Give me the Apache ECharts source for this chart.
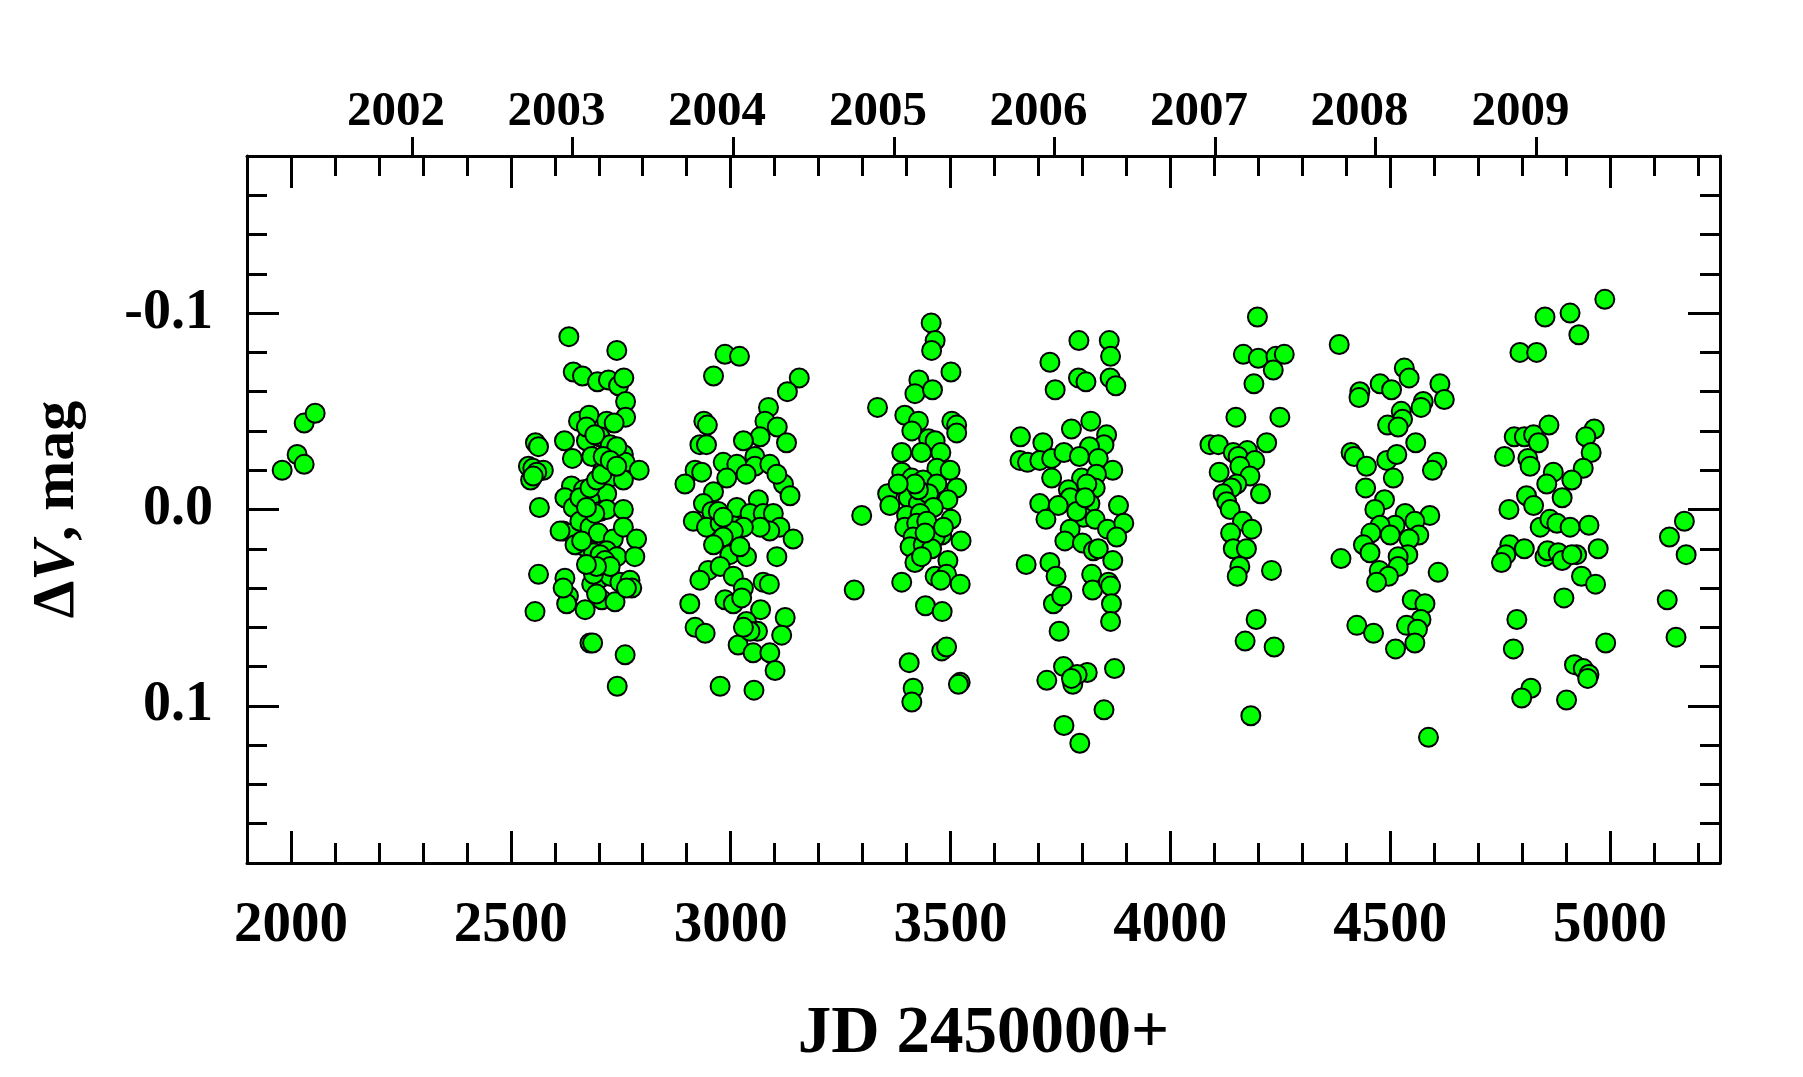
<!DOCTYPE html>
<html>
<head>
<meta charset="utf-8">
<script src="https://cdn.jsdelivr.net/npm/echarts@6/dist/echarts.min.js"></script>
<style>
html,body{margin:0;padding:0;background:#fff;}
#chart{width:1803px;height:1077px;}
</style>
</head>
<body>
<div id="chart"></div>
<script>
// ---- Data: JD-2450000 and Delta V (mag), one pair of arrays per observing season ----
const s01Jd = [1980, 2014, 2030, 2030, 2055];
const s01Dv = [-0.020, -0.028, -0.023, -0.044, -0.049];

const s02Jd = [2632,2741,2642,2663,2697,2722,2745,2757,2761,2761,2654,2678,2718,2735,2556,2563,2622,2680,2672,2703,2726,2756,2640,2684,2540,2550,2574,2545,2760,2792,2709,2722,2756,2638,2665,2623,2718,2565,2642,2680,2703,2718,2756,2619,2638,2657,2680,2699,2733,2756,2786,2650,2669,2688,2718,2741,2782,2563,2623,2684,2703,2726,2748,2771,2775,2631,2627,2669,2707,2737,2555,2680,2760,2742,2612,2646,2657,2680,2695,2707,2741,2672,2691,2710,2726,2741,2691,2672,2661,2703,2714,2726,2688,2763,2619,2695,2686,2559,2551,2695,2672];
const s02Dv = [-0.088,-0.081,-0.070,-0.068,-0.065,-0.066,-0.063,-0.067,-0.055,-0.047,-0.045,-0.048,-0.045,-0.044,-0.034,-0.032,-0.035,-0.039,-0.035,-0.037,-0.033,-0.028,-0.026,-0.027,-0.022,-0.021,-0.020,-0.015,-0.024,-0.020,-0.020,-0.016,-0.015,-0.012,-0.010,-0.006,-0.008,-0.001,-0.001,-0.005,0.001,0.000,0.000,0.011,0.012,0.006,0.009,0.012,0.015,0.009,0.015,0.018,0.019,0.022,0.021,0.024,0.024,0.033,0.035,0.038,0.035,0.034,0.037,0.036,0.040,0.044,0.048,0.051,0.046,0.047,0.052,0.068,0.074,0.090,0.011,0.018,-0.006,-0.011,-0.015,-0.018,-0.032,-0.042,-0.038,-0.027,-0.025,-0.022,0.002,-0.001,0.016,0.023,0.026,0.029,0.033,0.040,0.040,0.043,0.068,-0.019,-0.017,0.029,0.028];

const s03Jd = [2987,3020,2961,3156,3129,3086,2939,2947,3078,3106,3067,3029,3127,2930,2945,2983,3014,3055,3055,3035,3089,3120,3105,3135,2919,2934,2896,2991,2961,2938,2957,2915,2945,2976,2998,3014,3063,3044,3074,3097,3112,3142,3089,3067,3029,3006,2983,2961,2998,3036,3021,3105,2949,2930,2976,3006,3029,3074,3088,2907,2987,3006,3025,3068,3124,2919,2942,3036,3061,3116,3017,3051,3089,3101,2976,3053,3044,3029,2972,2983];
const s03Dv = [-0.079,-0.078,-0.068,-0.067,-0.060,-0.052,-0.045,-0.043,-0.045,-0.042,-0.037,-0.035,-0.034,-0.033,-0.033,-0.024,-0.023,-0.027,-0.022,-0.018,-0.023,-0.013,-0.018,-0.007,-0.020,-0.019,-0.013,-0.016,-0.009,-0.003,0.001,0.006,0.009,0.007,0.006,-0.001,-0.005,0.002,0.002,0.002,0.009,0.015,0.011,0.009,0.009,0.011,0.014,0.018,0.023,0.024,0.019,0.024,0.031,0.036,0.029,0.034,0.040,0.037,0.038,0.048,0.046,0.048,0.045,0.051,0.055,0.060,0.063,0.057,0.062,0.064,0.069,0.073,0.073,0.082,0.090,0.092,0.062,0.060,0.001,0.004];

const s04Jd = [3456,3465,3457,3501,3428,3419,3459,3334,3396,3427,3412,3503,3514,3514,3450,3465,3389,3434,3478,3469,3499,3389,3412,3438,3514,3469,3357,3362,3404,3427,3450,3494,3461,3298,3400,3431,3501,3396,3423,3446,3480,3465,3524,3415,3408,3438,3457,3419,3434,3494,3465,3491,3478,3389,3522,3281,3443,3481,3480,3491,3406,3522,3518,3415,3412,3442,3427,3419,3381,3484];
const s04Dv = [-0.095,-0.086,-0.081,-0.070,-0.066,-0.059,-0.061,-0.052,-0.048,-0.045,-0.040,-0.045,-0.043,-0.039,-0.036,-0.035,-0.029,-0.029,-0.029,-0.021,-0.020,-0.019,-0.016,-0.015,-0.011,-0.013,-0.008,-0.002,-0.006,-0.003,-0.008,-0.005,-0.001,0.003,0.003,0.002,0.005,0.009,0.007,0.006,0.013,0.014,0.016,0.014,0.019,0.018,0.020,0.027,0.024,0.026,0.034,0.033,0.036,0.037,0.038,0.041,0.049,0.052,0.072,0.070,0.078,0.088,0.089,0.091,0.098,0.012,-0.010,-0.013,-0.013,0.009];

const s05Jd = [3792,3861,3864,3726,3791,3808,3863,3876,3738,3819,3775,3659,3710,3855,3849,3816,3658,3675,3703,3730,3758,3793,3836,3869,3730,3798,3832,3829,3768,3772,3703,3745,3817,3882,3717,3802,3829,3857,3894,3878,3772,3760,3800,3825,3836,3869,3672,3726,3740,3821,3823,3859,3864,3734,3753,3866,3864,3747,3757,3719,3778,3811,3788,3873,3849,3758,3794,3775,3810,3787,3806];
const s05Dv = [-0.086,-0.086,-0.078,-0.075,-0.067,-0.065,-0.067,-0.063,-0.061,-0.045,-0.041,-0.037,-0.034,-0.038,-0.033,-0.032,-0.025,-0.024,-0.025,-0.026,-0.029,-0.027,-0.026,-0.020,-0.016,-0.016,-0.018,-0.011,-0.010,-0.006,-0.003,-0.002,-0.003,-0.002,0.005,0.004,0.005,0.010,0.007,0.014,0.010,0.016,0.017,0.021,0.020,0.026,0.028,0.027,0.034,0.033,0.041,0.037,0.039,0.048,0.044,0.048,0.057,0.062,0.080,0.087,0.089,0.083,0.084,0.081,0.102,0.110,0.119,0.086,-0.013,0.001,-0.006];

const s06Jd = [4198,4166,4200,4240,4259,4234,4190,4149,4249,4090,4109,4219,4143,4175,4154,4192,4111,4158,4181,4151,4139,4120,4205,4128,4136,4164,4185,4137,4143,4173,4158,4152,4230,4195,4170,4236,4183];
const s06Dv = [-0.098,-0.079,-0.077,-0.078,-0.079,-0.071,-0.064,-0.047,-0.047,-0.033,-0.033,-0.034,-0.029,-0.030,-0.027,-0.025,-0.019,-0.022,-0.017,-0.013,-0.011,-0.008,-0.008,-0.004,0.000,0.006,0.010,0.012,0.020,0.020,0.029,0.034,0.031,0.056,0.067,0.070,0.105];

const s07Jd = [4384,4532,4543,4477,4503,4431,4429,4613,4623,4575,4570,4525,4528,4494,4518,4558,4411,4418,4492,4515,4606,4596,4446,4507,4444,4487,4465,4590,4534,4556,4511,4477,4456,4439,4500,4565,4543,4454,4540,4518,4388,4518,4475,4496,4469,4609,4550,4579,4570,4537,4562,4424,4462,4556,4512,4587];
const s07Dv = [-0.084,-0.072,-0.067,-0.064,-0.061,-0.060,-0.057,-0.064,-0.056,-0.055,-0.052,-0.050,-0.046,-0.043,-0.042,-0.034,-0.029,-0.027,-0.025,-0.028,-0.024,-0.020,-0.022,-0.016,-0.011,-0.005,0.000,0.003,0.002,0.006,0.008,0.008,0.012,0.018,0.013,0.013,0.015,0.022,0.023,0.024,0.025,0.029,0.031,0.034,0.037,0.032,0.046,0.048,0.056,0.059,0.061,0.059,0.063,0.068,0.071,0.116];

const s08Jd = [4988,4852,4909,4929,4795,4833,4861,4964,4945,4782,4805,4826,4837,4957,4760,4813,4818,4939,4871,4913,4856,4810,4891,4826,4770,4841,4863,4879,4909,4952,4772,4763,4753,4805,4852,4858,4882,4891,4924,4973,4935,4967,4895,4788,4990,4780,4919,4939,4952,4949,4820,4799,4901,4913];
const s08Dv = [-0.107,-0.098,-0.100,-0.089,-0.080,-0.080,-0.043,-0.041,-0.037,-0.037,-0.037,-0.038,-0.034,-0.029,-0.027,-0.026,-0.022,-0.021,-0.019,-0.015,-0.013,-0.007,-0.006,-0.002,0.000,0.009,0.005,0.007,0.009,0.008,0.018,0.023,0.027,0.020,0.024,0.021,0.022,0.026,0.023,0.020,0.034,0.038,0.045,0.056,0.068,0.071,0.079,0.081,0.084,0.086,0.091,0.096,0.097,0.023];

const s09Jd = [5169, 5135, 5173, 5130, 5150];
const s09Dv = [0.006, 0.014, 0.023, 0.046, 0.065];

// ---- Axis ticks / labels ----
const jdMajorTicks = [2000, 2500, 3000, 3500, 4000, 4500, 5000];
const yearTickJd = [2275.5, 2640.5, 3005.5, 3371.5, 3736.5, 4101.5, 4466.5, 4832.5];
const yearLabels = ['2002', '2003', '2004', '2005', '2006', '2007', '2008', '2009'];
const magMajorTicks = [-0.1, 0, 0.1];

// ---- Build points ----
const seasons = [[s01Jd,s01Dv],[s02Jd,s02Dv],[s03Jd,s03Dv],[s04Jd,s04Dv],[s05Jd,s05Dv],[s06Jd,s06Dv],[s07Jd,s07Dv],[s08Jd,s08Dv],[s09Jd,s09Dv]];
const points = [];
seasons.forEach(([j, d]) => j.forEach((x, i) => points.push([x, d[i]])));

const FONT = 'Liberation Serif';
const X_MIN = 1900, X_MAX = 5250, Y_MIN = -0.18, Y_MAX = 0.18;
const gridRect = { left: 247, top: 156, width: 1473, height: 707 };
const line = { color: '#000', width: 3 };

const chart = echarts.init(document.getElementById('chart'), null, { renderer: 'canvas' });

function xBase(gridIndex, position) {
  return { type: 'value', gridIndex, position, min: X_MIN, max: X_MAX, splitLine: { show: false } };
}
function yBase(gridIndex, position) {
  return { type: 'value', gridIndex, position, min: Y_MIN, max: Y_MAX, inverse: true, splitLine: { show: false } };
}

chart.setOption({
  animation: false,
  backgroundColor: '#fff',
  grid: [
    Object.assign({}, gridRect),
    Object.assign({}, gridRect),
    Object.assign({}, gridRect)
  ],
  xAxis: [
    Object.assign(xBase(0, 'bottom'), {
      interval: 100,
      axisLine: { show: true, onZero: false, lineStyle: line },
      axisTick: { show: true, inside: true, length: 20, lineStyle: line },
      axisLabel: { show: false }
    }),
    Object.assign(xBase(0, 'top'), {
      interval: 100,
      axisLine: { show: true, onZero: false, lineStyle: line },
      axisTick: { show: true, inside: true, length: 20, lineStyle: line },
      axisLabel: { show: false }
    }),
    Object.assign(xBase(1, 'bottom'), {
      axisLine: { show: false, onZero: false },
      axisTick: { show: true, inside: true, length: 32, lineStyle: line, customValues: jdMajorTicks },
      axisLabel: {
        show: true, customValues: jdMajorTicks, margin: 35,
        fontFamily: FONT, fontWeight: 'bold', fontSize: 57, color: '#000',
        formatter: v => String(Math.round(v))
      },
      name: 'JD 2450000+', nameLocation: 'middle', nameGap: 138,
      nameTextStyle: { fontFamily: FONT, fontWeight: 'bold', fontSize: 67, color: '#000' }
    }),
    Object.assign(xBase(1, 'top'), {
      axisLine: { show: false, onZero: false },
      axisTick: { show: true, inside: false, length: 19, lineStyle: line, customValues: yearTickJd },
      axisLabel: {
        show: true, customValues: yearTickJd, margin: 19,
        padding: [0, 32, 0, 0],
        fontFamily: FONT, fontWeight: 'bold', fontSize: 49, color: '#000',
        formatter: v => {
          let best = 0;
          yearTickJd.forEach((y, i) => { if (Math.abs(y - v) < Math.abs(yearTickJd[best] - v)) best = i; });
          return yearLabels[best];
        }
      }
    }),
    Object.assign(xBase(2, 'top'), {
      axisLine: { show: false, onZero: false },
      axisTick: { show: true, inside: true, length: 32, lineStyle: line, customValues: jdMajorTicks },
      axisLabel: { show: false }
    })
  ],
  yAxis: [
    Object.assign(yBase(0, 'left'), {
      interval: 0.02,
      axisLine: { show: true, onZero: false, lineStyle: line },
      axisTick: { show: true, inside: true, length: 20, lineStyle: line },
      axisLabel: { show: false }
    }),
    Object.assign(yBase(0, 'right'), {
      interval: 0.02,
      axisLine: { show: true, onZero: false, lineStyle: line },
      axisTick: { show: true, inside: true, length: 20, lineStyle: line },
      axisLabel: { show: false }
    }),
    Object.assign(yBase(1, 'left'), {
      axisLine: { show: false, onZero: false },
      axisTick: { show: true, inside: true, length: 32, lineStyle: line, customValues: magMajorTicks },
      axisLabel: {
        show: true, customValues: magMajorTicks, margin: 34,
        fontFamily: FONT, fontWeight: 'bold', fontSize: 56, color: '#000',
        formatter: v => v.toFixed(1)
      },
      name: '{d|Δ}{v|V}{d|, mag}', nameLocation: 'middle', nameGap: 160, nameRotate: 90,
      nameTextStyle: {
        rich: {
          d: { fontFamily: FONT, fontWeight: 'bold', fontSize: 60, color: '#000' },
          v: { fontFamily: FONT, fontWeight: 'bold', fontStyle: 'italic', fontSize: 60, color: '#000' }
        }
      }
    }),
    Object.assign(yBase(1, 'right'), {
      axisLine: { show: false, onZero: false },
      axisTick: { show: true, inside: true, length: 32, lineStyle: line, customValues: magMajorTicks },
      axisLabel: { show: false }
    }),
    Object.assign(yBase(2, 'left'), { show: false })
  ],
  series: [{
    type: 'scatter',
    xAxisIndex: 0,
    yAxisIndex: 0,
    data: points,
    symbol: 'circle',
    symbolSize: 19,
    itemStyle: { color: '#00ff00', borderColor: '#000', borderWidth: 2, opacity: 1 },
    emphasis: { disabled: true },
    z: 5
  }]
});
</script>
</body>
</html>
